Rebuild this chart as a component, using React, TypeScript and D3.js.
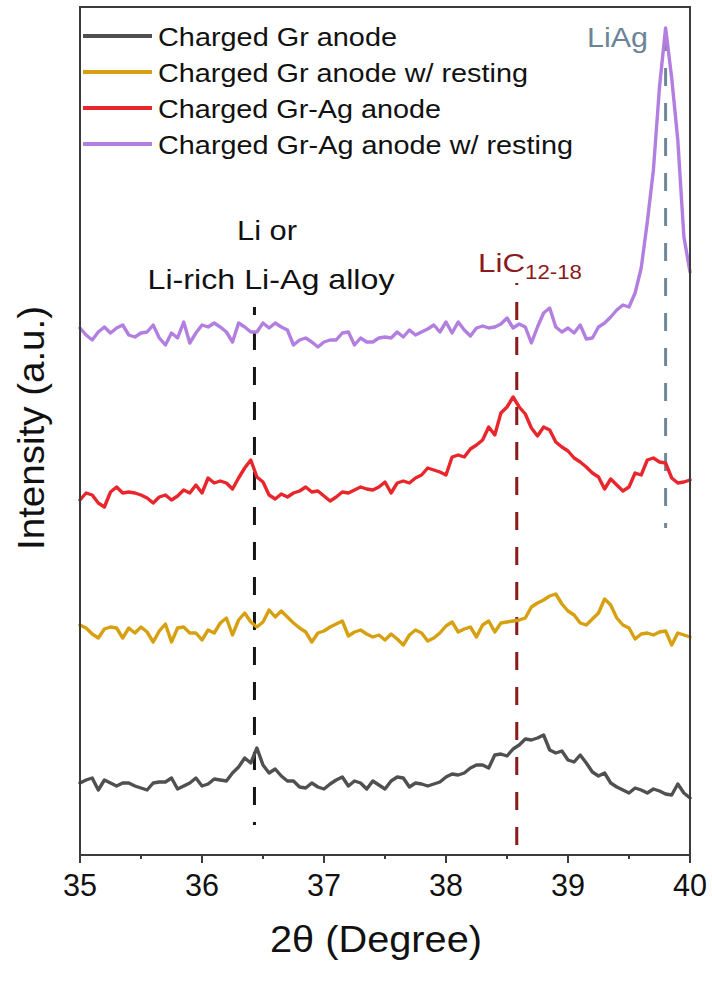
import React from 'react';
import * as d3 from 'd3';

// 2θ sampling grid (degrees)
const twoTheta: number[] = d3.range(101).map((i) => +(35 + i * 0.05).toFixed(2));

// Stacked intensities (a.u., offsets included)
const grAnode = [
  104,107,109,97,107,104,101,104,104,101,99,
  97,104,105,105,109,98,101,104,109,101,
  103,108,107,106,114,120,129,124,139,122,
  114,118,111,106,106,100,99,104,100,98,
  103,107,110,101,106,104,98,106,102,98,
  106,110,109,100,104,103,101,103,105,110,
  113,112,114,119,122,122,119,132,133,131,
  138,142,148,147,149,152,137,134,136,127,
  125,132,124,115,111,114,104,100,97,94,
  99,97,94,98,96,93,92,103,94,89,
];
const grAnodeRest = [
  262,259,253,249,258,260,259,249,259,254,260,
  255,245,256,263,245,259,260,254,254,247,
  257,254,264,269,252,267,274,265,260,265,
  277,270,276,270,264,259,255,245,254,256,
  260,263,266,251,255,257,253,250,252,247,
  253,248,242,252,257,254,246,249,254,261,
  265,255,258,260,250,262,266,255,264,265,
  266,267,269,280,284,287,291,293,283,276,
  272,264,262,268,274,288,282,269,262,259,
  248,253,254,252,255,256,242,254,252,250,
];
const grAgAnode = [
  387,394,392,384,380,395,400,394,395,394,392,
  389,384,390,392,387,391,397,394,402,394,
  409,404,406,404,398,409,419,427,410,405,
  392,388,393,390,394,396,400,395,396,391,
  386,390,395,394,397,400,398,397,400,405,
  394,404,406,404,409,412,419,417,415,412,
  430,432,430,438,442,447,460,452,474,480,
  490,480,473,459,451,460,457,445,440,436,
  429,425,420,414,410,398,408,402,396,400,
  414,412,427,429,425,424,409,404,405,407,
];
const grAgAnodeRest = [
  559,552,547,555,560,554,559,562,552,550,554,
  555,562,549,542,554,549,565,544,554,562,
  560,564,560,555,545,564,560,555,555,564,
  559,564,560,557,542,547,549,545,540,545,
  547,547,554,555,542,549,545,545,549,550,
  549,555,550,557,552,555,558,562,555,565,
  554,565,557,551,559,561,559,560,563,569,
  559,563,560,544,560,574,579,560,555,559,
  554,562,548,549,560,564,570,577,582,580,
  594,619,665,717,800,859,809,747,650,615,
];

const seriesNames = [
  'Charged Gr anode',
  'Charged Gr anode w/ resting',
  'Charged Gr-Ag anode',
  'Charged Gr-Ag anode w/ resting',
];
const seriesValues = [grAnode, grAnodeRest, grAgAnode, grAgAnodeRest];
const seriesColors = ['#505050', '#D6A010', '#E8262B', '#B27FE0'];

const xTicks = [35, 36, 37, 38, 39, 40];
const xMinorTicks = [35.5, 36.5, 37.5, 38.5, 39.5];

// Reference (dashed) lines: position in degrees, extent in intensity units
const refX = [36.43, 38.58, 39.8];
const refYTop = [580, 604, 854];
const refYBottom = [62, 32, 359];
const refColors = ['#151515', '#8B1A1A', '#6E889B'];
const refDashOffset = [10, 16, 0];

const FONT = "'Liberation Sans', Arial, Helvetica, sans-serif";

export default function App() {
  const W = 712;
  const H = 1001;
  const left = 80, right = 690, top = 7, bottom = 855;
  const x = d3.scaleLinear().domain([35, 40]).range([left, right]);
  const y = d3.scaleLinear().domain([32, 880]).range([bottom, top]);

  const line = d3
    .line<number>()
    .x((_, i) => x(twoTheta[i]))
    .y((d) => y(d));

  return (
    <svg
      width={W}
      height={H}
      style={{ position: 'absolute', left: 0, top: 0, background: '#fff' }}
      fontFamily={FONT}
    >
      <rect x={0} y={0} width={W} height={H} fill="#fff" />

      {/* reference dashed lines */}
      {refX.map((rx, i) => (
        <line
          key={'ref' + i}
          x1={x(rx)}
          x2={x(rx)}
          y1={y(refYTop[i])}
          y2={y(refYBottom[i])}
          stroke={refColors[i]}
          strokeWidth={3}
          strokeDasharray="18 17"
          strokeDashoffset={refDashOffset[i]}
        />
      ))}

      {/* curves */}
      {seriesValues.map((vals, i) => (
        <path
          key={'s' + i}
          d={line(vals) || ''}
          fill="none"
          stroke={seriesColors[i]}
          strokeWidth={3.4}
          strokeLinejoin="round"
          strokeLinecap="round"
        />
      ))}

      {/* frame */}
      <rect
        x={left}
        y={top}
        width={right - left}
        height={bottom - top}
        fill="none"
        stroke="#3c3c3c"
        strokeWidth={2}
      />

      {/* x ticks */}
      {xTicks.map((t) => (
        <g key={'t' + t}>
          <line x1={x(t)} x2={x(t)} y1={bottom} y2={bottom + 8} stroke="#3c3c3c" strokeWidth={2} />
          <text
            x={x(t)}
            y={896}
            textAnchor="middle"
            fontSize={31}
            textLength={34}
            lengthAdjust="spacingAndGlyphs"
            fill="#111"
          >
            {t}
          </text>
        </g>
      ))}
      {xMinorTicks.map((t) => (
        <line key={'m' + t} x1={x(t)} x2={x(t)} y1={bottom} y2={bottom + 4} stroke="#3c3c3c" strokeWidth={2} />
      ))}

      {/* axis titles */}
      <text
        x={376}
        y={952}
        textAnchor="middle"
        fontSize={36}
        textLength={212}
        lengthAdjust="spacingAndGlyphs"
        fill="#111"
      >
        2θ (Degree)
      </text>
      <text
        transform="translate(44,428) rotate(-90)"
        textAnchor="middle"
        fontSize={36}
        textLength={244}
        lengthAdjust="spacingAndGlyphs"
        fill="#111"
      >
        Intensity (a.u.)
      </text>

      {/* legend */}
      {seriesNames.map((name, i) => {
        const cy = 36 + i * 36;
        const widths = [239, 370, 283, 415];
        return (
          <g key={'lg' + i}>
            <line x1={83} x2={152} y1={cy} y2={cy} stroke={seriesColors[i]} strokeWidth={4} />
            <text
              x={158}
              y={cy + 10}
              fontSize={26}
              textLength={widths[i]}
              lengthAdjust="spacingAndGlyphs"
              fill="#111"
            >
              {name}
            </text>
          </g>
        );
      })}

      {/* annotations */}
      <text x={267} y={240} textAnchor="middle" fontSize={28} textLength={60} lengthAdjust="spacingAndGlyphs" fill="#111">
        Li or
      </text>
      <text x={271} y={289} textAnchor="middle" fontSize={28} textLength={247} lengthAdjust="spacingAndGlyphs" fill="#111">
        Li-rich Li-Ag alloy
      </text>
      <text x={478} y={272} fontSize={26} textLength={47} lengthAdjust="spacingAndGlyphs" fill="#8B1A1A">
        LiC
      </text>
      <text x={525} y={279} fontSize={20} textLength={57} lengthAdjust="spacingAndGlyphs" fill="#8B1A1A">
        12-18
      </text>
      <text x={587} y={47} fontSize={28} textLength={61} lengthAdjust="spacingAndGlyphs" fill="#6B8497">
        LiAg
      </text>
    </svg>
  );
}
